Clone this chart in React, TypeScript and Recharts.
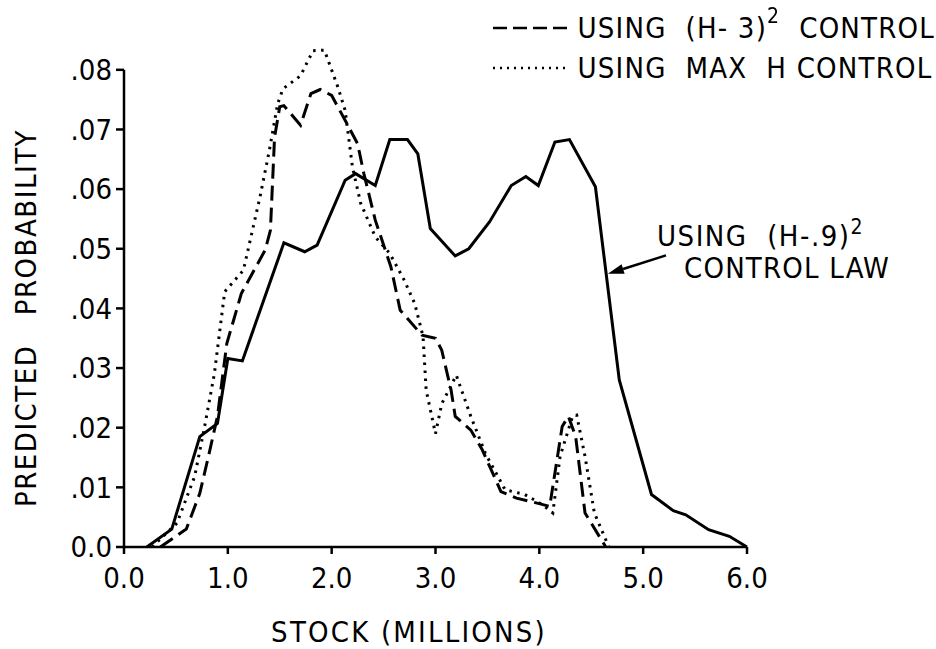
import { LineChart, Line, XAxis, YAxis, ReferenceLine, Legend, Label } from 'recharts'

const FONT = '"DejaVu Sans Condensed", "DejaVu Sans", sans-serif'

// stock (millions) / predicted probability
const stockH9 = [0.22, 0.46, 0.73, 0.9, 1.0, 1.14, 1.54, 1.74, 1.86, 2.13, 2.23, 2.42, 2.56, 2.73, 2.83, 2.95, 3.19, 3.32, 3.52, 3.73, 3.87, 3.99, 4.15, 4.29, 4.54, 4.77, 5.08, 5.29, 5.41, 5.63, 5.83, 6.0]
const probH9 = [0, 0.003, 0.0185, 0.0207, 0.0316, 0.0312, 0.051, 0.0495, 0.0506, 0.0615, 0.0626, 0.0606, 0.0683, 0.0683, 0.0659, 0.0534, 0.0488, 0.05, 0.0545, 0.0606, 0.0621, 0.0606, 0.0679, 0.0683, 0.0604, 0.028, 0.0088, 0.0061, 0.0054, 0.0029, 0.0018, 0]

const stockH3 = [0.35, 0.6, 0.73, 0.82, 0.9, 0.99, 1.13, 1.36, 1.41, 1.45, 1.5, 1.54, 1.7, 1.8, 1.89, 2.0, 2.14, 2.25, 2.31, 2.42, 2.57, 2.66, 2.87, 3.0, 3.06, 3.15, 3.19, 3.34, 3.45, 3.63, 3.78, 3.97, 4.1, 4.22, 4.28, 4.35, 4.44, 4.64]
const probH3 = [0, 0.003, 0.009, 0.0157, 0.0219, 0.0341, 0.0425, 0.0498, 0.0531, 0.0687, 0.0738, 0.074, 0.0707, 0.076, 0.0767, 0.0757, 0.0712, 0.0676, 0.0626, 0.0548, 0.047, 0.0397, 0.0355, 0.035, 0.033, 0.0263, 0.0219, 0.0196, 0.0163, 0.0093, 0.0082, 0.0074, 0.0068, 0.0202, 0.0219, 0.0185, 0.0057, 0]

const stockMax = [0.27, 0.51, 0.68, 0.77, 0.87, 0.97, 1.15, 1.31, 1.4, 1.48, 1.53, 1.7, 1.82, 1.93, 2.06, 2.13, 2.2, 2.28, 2.42, 2.56, 2.7, 2.8, 2.88, 2.91, 3.0, 3.06, 3.2, 3.34, 3.48, 3.67, 3.86, 4.03, 4.13, 4.2, 4.32, 4.36, 4.44, 4.53, 4.67]
const probMax = [0, 0.004, 0.0118, 0.0196, 0.029, 0.0428, 0.0464, 0.0587, 0.0665, 0.0743, 0.0768, 0.079, 0.0832, 0.0833, 0.0771, 0.0732, 0.0637, 0.0576, 0.052, 0.0492, 0.0447, 0.0408, 0.0353, 0.0263, 0.019, 0.024, 0.0288, 0.0219, 0.0157, 0.0096, 0.0088, 0.0071, 0.0057, 0.0152, 0.0219, 0.0221, 0.0152, 0.0057, 0]

const xTicks = [0, 1, 2, 3, 4, 5, 6]
const yTicks = [0, 0.01, 0.02, 0.03, 0.04, 0.05, 0.06, 0.07, 0.08]

const toPoints = (xs: number[], ys: number[]) => xs.map((x, i) => ({ x, y: ys[i] }))

const dataH9 = toPoints(stockH9, probH9)
const dataH3 = toPoints(stockH3, probH3)
const dataMax = toPoints(stockMax, probMax)

const yFmt = (v: number) => (v === 0 ? '0.0' : v.toFixed(2).replace(/^0/, ''))

function LegendBox() {
  const row = { display: 'flex', alignItems: 'center', height: 40 }
  return (
    <div
      style={{
        fontFamily: FONT,
        fontSize: 29,
        lineHeight: '40px',
        letterSpacing: 1.2,
        color: '#000',
        whiteSpace: 'pre',
      }}
    >
      <div style={row}>
        <svg width={75} height={10}>
          <line x1={0} y1={5} x2={75} y2={5} stroke="#000" strokeWidth={2.5} strokeDasharray="14 6" />
        </svg>
        <span>{' USING  (H- 3)'}</span>
        <span style={{ fontSize: 21, position: 'relative', top: -12 }}>2</span>
        <span>{'  CONTROL'}</span>
      </div>
      <div style={row}>
        <svg width={75} height={10}>
          <line x1={0} y1={5} x2={75} y2={5} stroke="#000" strokeWidth={2.5} strokeDasharray="2 5" />
        </svg>
        <span>{' USING  MAX  H CONTROL'}</span>
      </div>
    </div>
  )
}

function Arrow(props: any) {
  const { x1, y1, x2, y2 } = props
  const ang = Math.atan2(y2 - y1, x2 - x1)
  const len = 16
  const w = 5
  const bx = x2 - len * Math.cos(ang)
  const by = y2 - len * Math.sin(ang)
  const px = -Math.sin(ang) * w
  const py = Math.cos(ang) * w
  return (
    <g>
      <line x1={x1} y1={y1} x2={bx} y2={by} stroke="#000" strokeWidth={2.5} />
      <polygon points={`${x2},${y2} ${bx + px},${by + py} ${bx - px},${by - py}`} fill="#000" />
      <text
        x={x1 - 9}
        y={y1 - 9}
        fontFamily={FONT}
        fontSize={29}
        letterSpacing={1.5}
        fill="#000"
        style={{ whiteSpace: 'pre' }}
      >
        {'USING  (H-.9)'}
        <tspan fontSize={21} dy={-12}>2</tspan>
      </text>
      <text
        x={x1 + 18}
        y={y1 + 23}
        fontFamily={FONT}
        fontSize={29}
        letterSpacing={1.2}
        fill="#000"
        style={{ whiteSpace: 'pre' }}
      >
        CONTROL LAW
      </text>
    </g>
  )
}

export default function App() {
  return (
    <div style={{ position: 'fixed', left: 0, top: 0, background: '#fff' }}>
      <LineChart width={936} height={649} margin={{ top: 40, right: 189, left: 0, bottom: 0 }}>
        <XAxis
          type="number"
          dataKey="x"
          domain={[0, 6]}
          ticks={xTicks}
          tickFormatter={(v: number) => v.toFixed(1)}
          height={102}
          axisLine={{ stroke: '#000', strokeWidth: 2.5 }}
          tickLine={{ stroke: '#000', strokeWidth: 2.5 }}
          tickSize={7}
          tickMargin={13}
          tick={{ fill: '#000', fontFamily: FONT, fontSize: 29 }}
        >
          <Label
            content={() => (
              <text
                x={409}
                y={642}
                textAnchor="middle"
                fontFamily={FONT}
                fontSize={29}
                letterSpacing={2.2}
                fill="#000"
                style={{ whiteSpace: 'pre' }}
              >
                {'STOCK (MILLIONS)'}
              </text>
            )}
          />
        </XAxis>
        <YAxis
          type="number"
          domain={[0, 0.085]}
          ticks={yTicks}
          tickFormatter={yFmt}
          width={124}
          axisLine={false}
          tickLine={{ stroke: '#000', strokeWidth: 2.5 }}
          tickSize={8}
          tickMargin={4}
          tick={{ fill: '#000', fontFamily: FONT, fontSize: 29 }}
        >
          <Label
            content={() => (
              <text
                x={36}
                y={318}
                transform="rotate(-90 36 318)"
                textAnchor="middle"
                fontFamily={FONT}
                fontSize={29}
                letterSpacing={1.5}
                fill="#000"
                style={{ whiteSpace: 'pre' }}
              >
                {'PREDICTED   PROBABILITY'}
              </text>
            )}
          />
        </YAxis>
        <ReferenceLine
          segment={[{ x: 0, y: 0 }, { x: 0, y: 0.08 }]}
          stroke="#000"
          strokeWidth={2.5}
        />
        <ReferenceLine
          segment={[{ x: 5.22, y: 0.0489 }, { x: 4.66, y: 0.0458 }]}
          shape={Arrow}
        />
        <Legend
          layout="horizontal"
          verticalAlign="middle"
          align="center"
          content={() => <LegendBox />}
          wrapperStyle={{ position: 'absolute', left: 493, top: 8, width: 'auto', height: 'auto' }}
        />
        <Line
          data={dataH9}
          dataKey="y"
          type="linear"
          stroke="#000"
          strokeWidth={3}
          dot={false}
          isAnimationActive={false}
        />
        <Line
          data={dataH3}
          dataKey="y"
          type="linear"
          stroke="#000"
          strokeWidth={3}
          strokeDasharray="15 7"
          dot={false}
          isAnimationActive={false}
        />
        <Line
          data={dataMax}
          dataKey="y"
          type="linear"
          stroke="#000"
          strokeWidth={3}
          strokeDasharray="2.5 5.5"
          dot={false}
          isAnimationActive={false}
        />
      </LineChart>
    </div>
  )
}
